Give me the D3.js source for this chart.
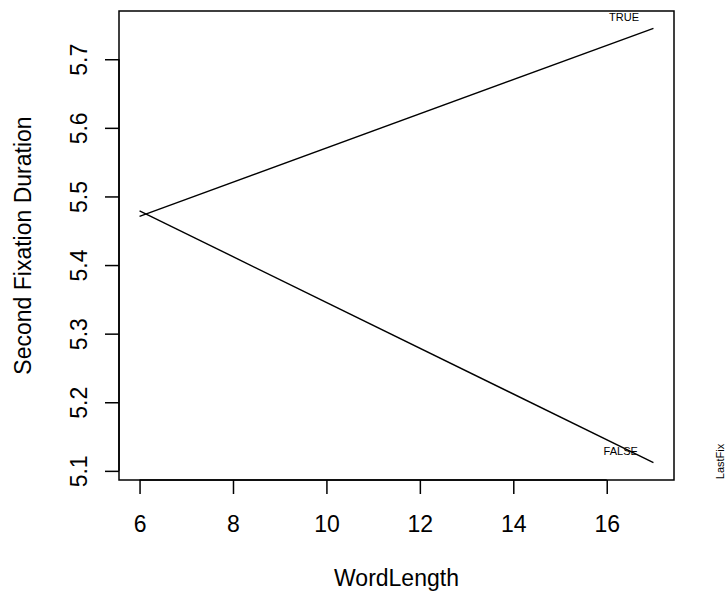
<!DOCTYPE html>
<html><head><meta charset="utf-8">
<script src="https://cdn.jsdelivr.net/npm/d3@7"></script>
<style>body{margin:0;background:#fff;} svg{display:block;font-family:"Liberation Sans",Arial,Helvetica,sans-serif;}</style>
</head><body>
<script>
const wordLength = [6, 17];
const seriesNames = ["TRUE", "FALSE"];
const trueValues = [5.471, 5.745];
const falseValues = [5.479, 5.112];
const xTicks = [6, 8, 10, 12, 14, 16];
const yTicks = [5.1, 5.2, 5.3, 5.4, 5.5, 5.6, 5.7];

const W = 725, H = 592;
const mLeft = 119, mRight = 674, mTop = 11, mBottom = 480;

const svg = d3.select("body").append("svg").attr("width", W).attr("height", H);

const allY = trueValues.concat(falseValues);
const yMin = d3.min(allY), yMax = d3.max(allY);
const yPad = (yMax - yMin) * 0.04;
const xMin = d3.min(wordLength), xMax = d3.max(wordLength);
const xPad = (xMax - xMin) * 0.04;

const x = d3.scaleLinear().domain([xMin - xPad, xMax + xPad]).range([mLeft, mRight]);
const y = d3.scaleLinear().domain([yMin - yPad, yMax + yPad]).range([mBottom, mTop]);

// box
svg.append("rect").attr("x", mLeft).attr("y", mTop).attr("width", mRight - mLeft).attr("height", mBottom - mTop)
  .attr("fill", "none").attr("stroke", "#000").attr("stroke-width", 1.5);

// x axis
const xAxis = svg.append("g").attr("transform", `translate(0,${mBottom})`)
  .call(d3.axisBottom(x).tickValues(xTicks).tickSize(14).tickPadding(0).tickFormat(d3.format("d")));
xAxis.attr("font-family", null).attr("font-size", null);
xAxis.select(".domain").attr("d", `M${x(xTicks[0])},0H${x(xTicks[xTicks.length-1])}`).attr("stroke-width", 1.5);
xAxis.selectAll(".tick line").attr("stroke-width", 1.5);
xAxis.selectAll(".tick text").attr("font-size", 23).attr("fill", "#000").attr("dy", null).attr("y", 52);

// y axis
const yAxis = svg.append("g").attr("transform", `translate(${mLeft},0)`)
  .call(d3.axisLeft(y).tickValues(yTicks).tickSize(14).tickFormat(d3.format(".1f")));
yAxis.attr("font-family", null).attr("font-size", null);
yAxis.select(".domain").attr("d", `M0,${y(yTicks[0])}V${y(yTicks[yTicks.length-1])}`).attr("stroke-width", 1.5);
yAxis.selectAll(".tick line").attr("stroke-width", 1.5);
yAxis.selectAll(".tick text").attr("font-size", 23).attr("fill", "#000")
  .attr("x", null).attr("dy", null).attr("text-anchor", "middle")
  .attr("transform", "translate(-32,0) rotate(-90)");

// lines
const line = d3.line().x((d, i) => x(wordLength[i])).y(d => y(d));
[trueValues, falseValues].forEach(vals => {
  svg.append("path").datum(vals).attr("d", line).attr("fill", "none")
    .attr("stroke", "#000").attr("stroke-width", 1.4);
});

// line labels
svg.append("text").attr("x", x(16.37)).attr("y", 20.5).attr("text-anchor", "middle")
  .attr("font-size", 11).text(seriesNames[0]);
svg.append("text").attr("x", x(16.3)).attr("y", 455).attr("text-anchor", "middle")
  .attr("font-size", 11).text(seriesNames[1]);

// titles
svg.append("text").attr("x", (mLeft + mRight) / 2).attr("y", 586).attr("text-anchor", "middle")
  .attr("font-size", 23).text("WordLength");
svg.append("text").attr("transform", `translate(31,${(mTop + mBottom) / 2}) rotate(-90)`)
  .attr("text-anchor", "middle").attr("font-size", 23).text("Second Fixation Duration");
svg.append("text").attr("transform", `translate(724,461.5) rotate(-90)`)
  .attr("text-anchor", "middle").attr("font-size", 11).text("LastFix");
</script>
</body></html>
